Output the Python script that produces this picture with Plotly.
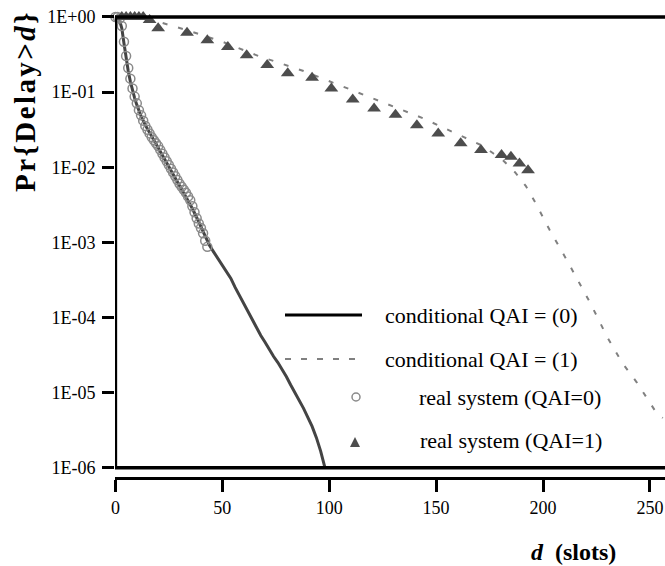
import plotly.graph_objects as go

# ---------------- data ----------------
# conditional model, QAI = (0)  (solid line)
model0_d = [0, 1, 2, 3, 4, 5, 6, 7, 8, 9, 10, 12, 14, 16, 18, 20, 22, 24, 26, 28,
            30, 32, 34, 36, 38, 40, 42, 44, 46, 48, 50, 52, 54, 56, 58, 60, 62, 64,
            66, 68, 70, 72, 74, 76, 78, 80, 82, 84, 86, 88, 90, 92, 94, 96, 98]
model0_p = [1.0, 1.0, 0.891, 0.708, 0.447, 0.282, 0.191, 0.138, 0.105, 0.0832, 0.0676,
            0.0479, 0.0363, 0.0282, 0.0229, 0.0182, 0.0145, 0.0115, 0.00912, 0.00724,
            0.00575, 0.00457, 0.00363, 0.00282, 0.00214, 0.00158, 0.00120, 0.000912,
            0.000741, 0.000603, 0.000501, 0.000407, 0.000331, 0.000251, 0.000195,
            0.000155, 0.000117, 9.12e-5, 7.08e-5, 5.75e-5, 4.68e-5, 3.72e-5, 3.02e-5,
            2.51e-5, 2.04e-5, 1.62e-5, 1.26e-5, 1.0e-5, 7.94e-6, 6.17e-6, 4.68e-6,
            3.55e-6, 2.51e-6, 1.66e-6, 1.0e-6]

# conditional model, QAI = (1)  (dashed line)
model1_d = [0, 10, 16, 23, 34, 50, 67, 88, 106, 125, 144, 163, 172, 177, 181, 187,
            192, 196, 203, 211, 217, 222, 230, 237, 244, 248, 253, 256]
model1_p = [1.0, 1.0, 0.933, 0.813, 0.661, 0.468, 0.302, 0.191, 0.120, 0.0724, 0.0447,
            0.0251, 0.0191, 0.0151, 0.0126, 0.00851, 0.00562, 0.00355, 0.00148,
            0.000589, 0.000288, 0.000158, 5.5e-5, 2.5e-5, 1.35e-5, 8.9e-6, 5.4e-6, 4.6e-6]

# real system, QAI = 0  (open circles)
real0_d = [0, 1, 2, 3, 4, 5, 6, 7, 8, 9, 10, 11, 12, 13, 14, 15, 16, 17, 18, 19, 20,
           21, 22, 23, 24, 25, 26, 27, 28, 29, 30, 31, 32, 33, 34, 35, 36, 37, 38, 39,
           40, 41, 42, 43]
real0_p = [1.0, 1.0, 0.955, 0.759, 0.468, 0.302, 0.209, 0.151, 0.112, 0.0871, 0.0708,
           0.0575, 0.0490, 0.0417, 0.0355, 0.0316, 0.0282, 0.0251, 0.0229, 0.0209,
           0.0191, 0.0170, 0.0151, 0.0135, 0.0120, 0.0107, 0.00955, 0.00851, 0.00759,
           0.00676, 0.00603, 0.00550, 0.00501, 0.00457, 0.00407, 0.00363, 0.00302,
           0.00251, 0.00209, 0.00178, 0.00155, 0.00132, 0.00105, 0.000871]

# real system, QAI = 1  (filled triangles)
real1_d = [3, 5, 7, 9, 11, 13, 16, 20, 33.5, 43, 52.6, 61.4, 71, 80.6, 92, 101, 111,
           121, 131, 141, 151, 161.5, 171, 180.6, 185, 189, 193]
real1_p = [1.0, 1.0, 1.0, 1.0, 1.0, 1.0, 0.912, 0.708, 0.617, 0.490, 0.398, 0.309,
           0.229, 0.178, 0.155, 0.112, 0.0794, 0.0603, 0.0501, 0.0363, 0.0282, 0.0209,
           0.0170, 0.0145, 0.0138, 0.0112, 0.00912]

x_ticks = [0, 50, 100, 150, 200, 250]
y_ticks = [1, 1e-1, 1e-2, 1e-3, 1e-4, 1e-5, 1e-6]
y_ticktext = ["1E+00", "1E-01", "1E-02", "1E-03", "1E-04", "1E-05", "1E-06"]

legend_labels = ["conditional QAI = (0)", "conditional QAI = (1)",
                 "real system (QAI=0)", "real system (QAI=1)"]

assert len(model0_d) == len(model0_p)
assert len(model1_d) == len(model1_p)
assert len(real0_d) == len(real0_p)
assert len(real1_d) == len(real1_p)

FONT = "Liberation Serif, Times New Roman, serif"

fig = go.Figure()
fig.add_trace(go.Scatter(x=model1_d, y=model1_p, mode="lines",
                         line=dict(color="#808080", width=2, dash="5px,11px"),
                         showlegend=False, cliponaxis=False))
fig.add_trace(go.Scatter(x=model0_d, y=model0_p, mode="lines",
                         line=dict(color="#444444", width=3),
                         showlegend=False, cliponaxis=False))
fig.add_trace(go.Scatter(x=real0_d, y=real0_p, mode="markers",
                         marker=dict(symbol="circle-open", size=9, color="#8a8a8a",
                                     line=dict(width=1.5, color="#8a8a8a")),
                         showlegend=False, cliponaxis=False))
fig.add_trace(go.Scatter(x=real1_d, y=real1_p, mode="markers",
                         marker=dict(symbol="triangle-up", size=12, color="#4d4d4d",
                                     line=dict(width=0)),
                         showlegend=False, cliponaxis=False))

# plot-area geometry (pixels) used to place the hand-drawn legend
L, R, T, B = 115, 665, 13, 477
W, H = R - L, B - T


def px(xp):
    return (xp - L) / W


def py(yp):
    return (B - yp) / H


shapes = [
    dict(type="line", xref="paper", yref="y", x0=0, x1=1, y0=1, y1=1,
         line=dict(color="black", width=3.5)),
    dict(type="line", xref="paper", yref="y", x0=0, x1=1, y0=1e-6, y1=1e-6,
         line=dict(color="black", width=3.5)),
    dict(type="line", xref="x", yref="y", x0=0, x1=0, y0=1e-6, y1=1,
         line=dict(color="black", width=3.5)),
    # legend samples
    dict(type="line", xref="paper", yref="paper", x0=px(285), x1=px(362),
         y0=py(315), y1=py(315), line=dict(color="black", width=3)),
    dict(type="line", xref="paper", yref="paper", x0=px(285), x1=px(362),
         y0=py(359), y1=py(359), line=dict(color="#808080", width=2, dash="6px,10px")),
    dict(type="circle", xref="paper", yref="paper", x0=px(352), x1=px(360),
         y0=py(401), y1=py(393), line=dict(color="#8a8a8a", width=1.5)),
    dict(type="path", xref="paper", yref="paper",
         path="M {:.4f},{:.4f} L {:.4f},{:.4f} L {:.4f},{:.4f} Z".format(
             px(350), py(447), px(360), py(447), px(355), py(437)),
         fillcolor="#4d4d4d", line=dict(width=0)),
]

ann_font = dict(family=FONT, size=22, color="black")
legend_pos = [(383, 315), (383, 359), (417, 397), (418, 440)]
annotations = []
for lab, (lx, ly) in zip(legend_labels, legend_pos):
    annotations.append(dict(text=lab, xref="paper", yref="paper", x=px(lx), y=py(ly),
                            xanchor="left", yanchor="middle", showarrow=False,
                            font=ann_font))

hs = "\u200a"
ytitle = "<b>" + hs.join(["P", "r", "{", "D", "e", "l", "a", "y", "&gt;"]) + hs + "<i>d</i>" + hs + "}</b>"
annotations.append(dict(text=ytitle, xref="paper", yref="paper", x=px(25), y=py(102),
                        xanchor="center", yanchor="middle", textangle=-90,
                        showarrow=False, font=dict(family=FONT, size=29, color="black")))
annotations.append(dict(text="<b><i>d</i>&nbsp;&nbsp;(slots)</b>", xref="paper", yref="paper",
                        x=px(573), y=py(552), xanchor="center", yanchor="middle",
                        showarrow=False, font=dict(family=FONT, size=24, color="black")))

fig.update_layout(
    width=665, height=566,
    margin=dict(l=L, r=665 - R, t=T, b=566 - B),
    paper_bgcolor="white", plot_bgcolor="white",
    shapes=shapes, annotations=annotations,
    xaxis=dict(range=[-0.19, 257.06], tickvals=x_ticks, showline=True, linewidth=3,
               linecolor="black", ticks="outside", ticklen=12, tickwidth=2.5,
               tickcolor="black", showgrid=False, zeroline=False,
               tickfont=dict(family=FONT, size=18, color="black")),
    yaxis=dict(type="log", range=[-6.124, 0.053], tickvals=y_ticks, ticktext=y_ticktext,
               ticks="outside", ticklen=12, tickwidth=2.5, tickcolor="black",
               showline=False, showgrid=False, zeroline=False, ticklabelstandoff=3,
               tickfont=dict(family=FONT, size=18, color="black")),
)

fig.write_html("out.html")
